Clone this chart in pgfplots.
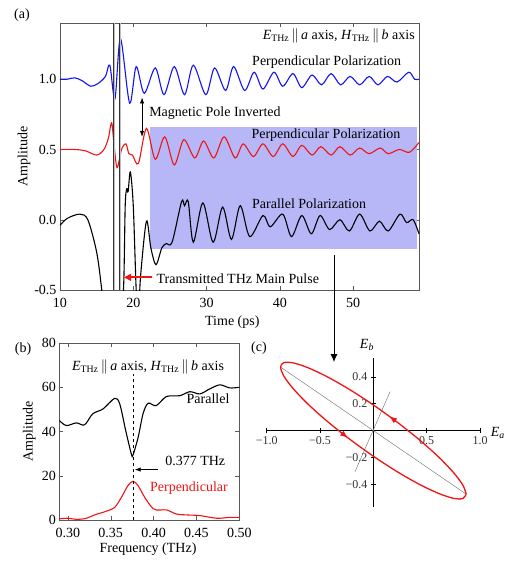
\documentclass[border=0pt]{standalone}
\usepackage{fontspec}
\setmainfont{Liberation Serif}
\usepackage{pgfplots}
\pgfplotsset{compat=1.18}
\usetikzlibrary{arrows.meta,decorations.markings}

\definecolor{boxblue}{RGB}{183,183,248}
\definecolor{tblue}{RGB}{20,20,240}
\definecolor{tred}{RGB}{240,20,20}
\newcommand\fa{\fontsize{14}{16}\selectfont}
\newcommand\fc{\fontsize{12}{14}\selectfont}
\newcommand\ethz{\textit{E}\textsubscript{THz}\,$\|$\,\textit{a} axis, \textit{H}\textsubscript{THz}\,$\|$\,\textit{b} axis}

\pgfplotsset{
  fig/.style={
    scale only axis, anchor=south west,
    tick align=inside, major tick length=4pt,
    axis line style={black!65}, every tick/.style={black!65},
    /pgf/number format/assume math mode=true,
    tick label style={font=\fa}, label style={font=\fa},
    xticklabel style={yshift=-5pt},
    clip mode=individual,
  },
}

\begin{document}
\begin{tikzpicture}
\useasboundingbox (0pt,0pt) rectangle (509pt,-563pt);

% (a) time domain
\begin{axis}[fig,
  at={(60pt,-290pt)}, width=359pt, height=267pt,
  xmin=10, xmax=59, ymin=-0.5, ymax=1.4,
  xtick={10,20,30,40,50}, ytick={-0.5,0,0.5,1},
  yticklabel style={/pgf/number format/.cd,fixed,fixed zerofill,precision=1},
  xlabel={Time (ps)}, ylabel={Amplitude},
  xlabel style={at={(axis description cs:0.48,-0.12)},anchor=center},
  ylabel style={at={(axis description cs:-0.1,0.5)},anchor=center},
]
\fill[boxblue] (axis cs:22.3,-0.21) rectangle (axis cs:58.7,0.66);

\addplot[tblue, line width=1.1pt, smooth] coordinates {
  (10,1.0) (11,1.0) (12,1.01) (13,0.99) (14.2,0.95) (15.2,0.97) (16.2,1.02)
  (16.8,1.10) (17.5,0.86) (18.25,1.29) (19.5,0.83) (20.4,1.09) (21.5,0.90)
  (23,1.08) (24.2,0.89) (25.6,1.09) (27.0,0.89) (28.2,1.10) (29.9,0.89)
  (31.1,1.08) (32.6,0.92) (33.7,1.09) (35.2,0.92) (36.5,1.05) (37.7,0.93)
  (39.2,1.05) (40.4,0.95) (41.8,1.04) (43,0.94) (44.4,1.03) (45.7,0.96)
  (47,1.04) (48.3,0.96) (49.6,1.02) (50.9,0.96) (52.2,1.02) (53.4,0.96)
  (54.7,1.02) (56,0.98) (57.6,1.05) (58.4,1.0) (59,1.0)
};
\addplot[tred, line width=1.1pt, smooth] coordinates {
  (10,0.5) (12,0.5) (13.5,0.49) (15,0.46) (16,0.5) (16.6,0.58) (17.05,0.69)
  (17.4,0.52) (17.8,0.37) (18.4,0.5) (19.0,0.54) (19.4,0.47) (19.9,0.46)
  (20.7,0.40) (21.8,0.65) (23,0.43) (24.3,0.59) (25.6,0.39) (26.9,0.57)
  (28.4,0.44) (29.6,0.56) (31,0.44) (32.4,0.59) (33.9,0.44) (35,0.54)
  (36.4,0.45) (37.7,0.54) (39.1,0.45) (40.4,0.54) (41.8,0.45) (43,0.53)
  (44.4,0.46) (45.6,0.52) (47,0.46) (48.2,0.52) (49.6,0.46) (50.9,0.51)
  (52.2,0.47) (53.7,0.51) (54.8,0.47) (56.3,0.5) (57.7,0.48) (59,0.55)
};
\addplot[black, line width=1.1pt, smooth] coordinates {
  (10,-0.04) (11,0.01) (12.7,0.04) (13.8,0.0) (15,-0.23) (15.7,-0.5)
  (16.5,-0.9) (17.5,-1.0) (18.3,-0.8) (18.7,-0.45) (18.9,0.1) (19.1,0.22)
  (19.3,0.2) (19.6,0.34) (20,0.1) (20.4,-0.5) (20.7,-0.7) (21.0,-0.4)
  (21.8,-0.01) (22.4,-0.2) (23.1,-0.32) (23.9,-0.2) (24.5,-0.17) (25.3,-0.16)
  (26.6,0.13) (27.0,0.10) (27.5,0.13) (28.2,-0.16) (29.5,0.12) (30.9,-0.16)
  (32.2,0.09) (33.4,-0.14) (34.6,0.10) (35.9,-0.12) (37.7,0.03) (38.7,-0.05)
  (40.4,0.04) (41.6,-0.12) (43,0.03) (44.3,-0.10) (45.5,0.03) (46.8,-0.07)
  (48.2,0.0) (49.5,-0.08) (50.9,0.04) (52.3,-0.08) (53.6,-0.01) (54.8,-0.08)
  (56.4,0.04) (57.3,-0.02) (58.2,0.0) (59,-0.1)
};

\draw[draw=black!80, double=black!25, double distance=0.6pt, line width=0.5pt] (axis cs:17.4,-0.5) -- (axis cs:17.4,1.4);
\draw[draw=black!80, double=black!25, double distance=0.6pt, line width=0.5pt] (axis cs:18.2,-0.5) -- (axis cs:18.2,1.4);

\node[anchor=east, font=\fa] at (axis cs:58.9,1.31) {\ethz};
\node[font=\fa] at (axis cs:46.4,1.12) {Perpendicular Polarization};
\draw[{Latex[length=6pt]}-{Latex[length=6pt]}, line width=0.8pt] (axis cs:21.2,0.87) -- (axis cs:21.2,0.59);
\node[anchor=west, font=\fa] at (axis cs:21.7,0.757) {Magnetic Pole Inverted};
\node[font=\fa] at (axis cs:46.3,0.6) {Perpendicular Polarization};
\node[font=\fa] at (axis cs:44.0,0.114) {Parallel Polarization};
\draw[tred, line width=2.2pt, -{Latex[length=8pt,width=8pt]}] (axis cs:22.6,-0.41) -- (axis cs:18.6,-0.41);
\node[anchor=west, font=\fa] at (axis cs:22.7,-0.42) {Transmitted THz Main Pulse};
\end{axis}

% (b) spectra
\begin{axis}[fig,
  at={(59.3pt,-520pt)}, width=180pt, height=177pt,
  xmin=0.29, xmax=0.50, ymin=0, ymax=80,
  xtick={0.30,0.35,0.40,0.45,0.50}, ytick={0,20,40,60,80},
  xticklabel style={/pgf/number format/.cd,fixed,fixed zerofill,precision=2},
  xlabel={Frequency (THz)}, ylabel={Amplitude},
  xlabel style={at={(axis description cs:0.493,-0.165)},anchor=center},
  ylabel style={at={(axis description cs:-0.167,0.5)},anchor=center},
]
\addplot[black, line width=1.1pt, smooth] coordinates {
  (0.2895,45.2) (0.298,42.7) (0.310,43.9) (0.3195,43.0) (0.329,48.0)
  (0.341,50.2) (0.3546,55.0) (0.3605,52.5) (0.3675,40.4) (0.374,29.9)
  (0.376,29.4) (0.382,37.4) (0.3877,48.0) (0.3936,52.8) (0.403,51.7)
  (0.415,55.8) (0.4306,56.2) (0.4423,58.0) (0.454,57.0) (0.4657,59.3)
  (0.4774,61.1) (0.489,59.7) (0.50,60.0)
};
\addplot[tred, line width=1.1pt, smooth] coordinates {
  (0.2895,0.5) (0.30,0.8) (0.310,0.3) (0.3207,0.7) (0.332,2.4) (0.3443,3.9)
  (0.3546,5.7) (0.3624,10.2) (0.370,15.5) (0.376,17.5) (0.382,15.5)
  (0.3897,10.2) (0.3995,5.1) (0.4073,4.5) (0.415,4.6) (0.4267,2.7)
  (0.4384,2.3) (0.454,2.0) (0.4735,0.8) (0.489,1.2) (0.50,1.2)
};
\addplot[black, dashed, line width=0.8pt] coordinates {(0.377,0) (0.377,66)};
\node[font=\fa] at (axis cs:0.3936,69.4) {\ethz};
\node[font=\fa] at (axis cs:0.4635,55) {Parallel};
\draw[-{Latex[length=6pt]}, line width=0.8pt] (axis cs:0.405,22.8) -- (axis cs:0.378,22.8);
\node[anchor=west, font=\fa] at (axis cs:0.4096,26.9) {0.377 THz};
\node[font=\fa, text=tred] at (axis cs:0.4413,14.6) {Perpendicular};
\end{axis}

% (c) polarization ellipse
\begin{axis}[
  at={(266.7pt,-507.1pt)}, anchor=south west, scale only axis,
  width=213.3pt, height=149pt,
  axis lines=middle, axis line style={-, line width=0.9pt},
  xmin=-1, xmax=1, ymin=-0.57, ymax=0.54,
  xtick={-1,-0.5,0.5,1}, ytick={-0.4,-0.2,0.2,0.4},
  xticklabels={−1.0,−0.5,0.5,1.0}, yticklabels={−0.4,−0.2,0.2,0.4},
  minor x tick num=4, minor y tick num=3,
  tick align=center, major tick length=5pt, minor tick length=3pt,
  tick style={black, line width=0.6pt},
  tick label style={font=\fc, text=black!80},
  clip=false,
]
\addplot[gray, line width=0.5pt] coordinates {(-0.870,0.473) (0.870,-0.473)};
\addplot[gray, line width=0.5pt] coordinates {(0.157,0.29) (-0.172,-0.306)};
\addplot[tred, line width=1.3pt, smooth, postaction={decorate},
  decoration={markings,
    mark=at position 0.235 with {\arrow{Latex[length=8pt,width=6pt]}},
    mark=at position 0.71 with {\arrow{Latex[length=8pt,width=6pt]}}}]
  coordinates {
  (0.870,-0.473) (0.840,-0.407) (0.753,-0.314) (0.615,-0.199) (0.435,-0.071)
  (0.225,0.062) (0,0.191) (-0.225,0.307) (-0.435,0.402) (-0.615,0.469)
  (-0.753,0.505) (-0.840,0.506) (-0.870,0.473) (-0.840,0.407) (-0.753,0.314)
  (-0.615,0.199) (-0.435,0.071) (-0.225,-0.062) (0,-0.191) (0.225,-0.307)
  (0.435,-0.402) (0.615,-0.469) (0.753,-0.505) (0.840,-0.506) (0.870,-0.473)
};
\node[font=\fa] at (axis cs:1.168,-0.02) {\textit{E}\textsubscript{\textit{a}}};
\node[font=\fa] at (axis cs:-0.06,0.64) {\textit{E}\textsubscript{\textit{b}}};
\end{axis}

\draw[-{Latex[length=8pt,width=7pt]}, line width=0.8pt] (334pt,-255pt) -- (334pt,-362pt);
\node[font=\fa] at (22pt,-15pt) {(a)};
\node[font=\fa] at (23pt,-349pt) {(b)};
\node[font=\fa] at (259pt,-348pt) {(c)};
\end{tikzpicture}
\end{document}
